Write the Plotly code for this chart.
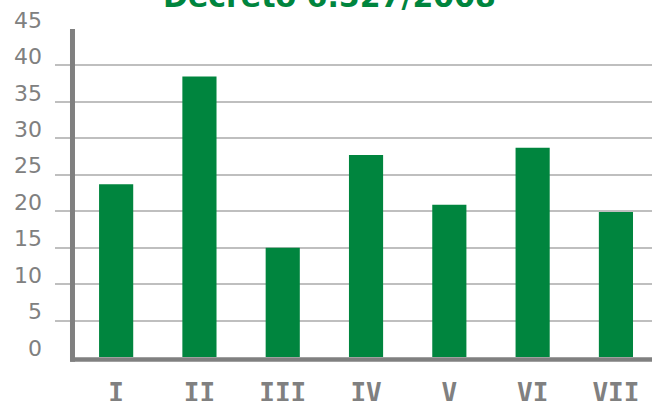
import plotly.graph_objects as go

categories = ["I", "II", "III", "IV", "V", "VI", "VII"]
values = [23.7, 38.5, 15, 27.7, 20.9, 28.7, 19.9]
y_ticks = [0, 5, 10, 15, 20, 25, 30, 35, 40, 45]
title_text = "Decreto 6.527/2008"

GREEN = "#00853E"
GRAY = "#808080"

fig = go.Figure(go.Bar(x=categories, y=values, marker_color=GREEN, marker_line_width=0))

fig.update_layout(
    width=652, height=401,
    margin=dict(l=55, r=0, t=29, b=44, autoexpand=False),
    paper_bgcolor="white", plot_bgcolor="white",
    bargap=0.59,
    showlegend=False,
)
fig.update_xaxes(
    type="category", range=[-0.734, 6.433], automargin=False,
    showline=False, showgrid=False, ticks="",
    tickfont=dict(family="DejaVu Sans Mono", size=26, color=GRAY, weight="bold"),
    ticklabelstandoff=18,
)
fig.update_yaxes(
    range=[0, 45], tickvals=y_ticks, automargin=False,
    showgrid=True, gridcolor="#BFBFBF", gridwidth=1.5,
    zeroline=False, showline=False, ticks="",
    tickfont=dict(family="DejaVu Sans", size=22, color=GRAY),
    ticklabelshift=-9, ticklabelstandoff=12,
)
# horizontal (category) axis line starting at the vertical axis line
fig.add_shape(type="line", xref="paper", yref="paper", x0=0.0255, x1=1.0, y0=-0.0076, y1=-0.0076,
              line=dict(color=GRAY, width=4.5), layer="above")
# vertical axis line (offset to the right of the gridline starts)
fig.add_shape(type="line", xref="paper", yref="paper", x0=0.0293, x1=0.0293, y0=-0.0145, y1=1,
              line=dict(color=GRAY, width=5), layer="above")
fig.add_annotation(
    text=title_text, showarrow=False,
    xref="paper", yref="paper", x=0.4606, y=1.040,
    xanchor="center", yanchor="bottom",
    font=dict(family="DejaVu Sans", size=30, color=GREEN, weight="bold"),
)
fig.write_html(
    "out.html",
    config={"displayModeBar": False},
    post_script="document.body.style.margin='0';document.body.style.overflow='hidden';",
)
